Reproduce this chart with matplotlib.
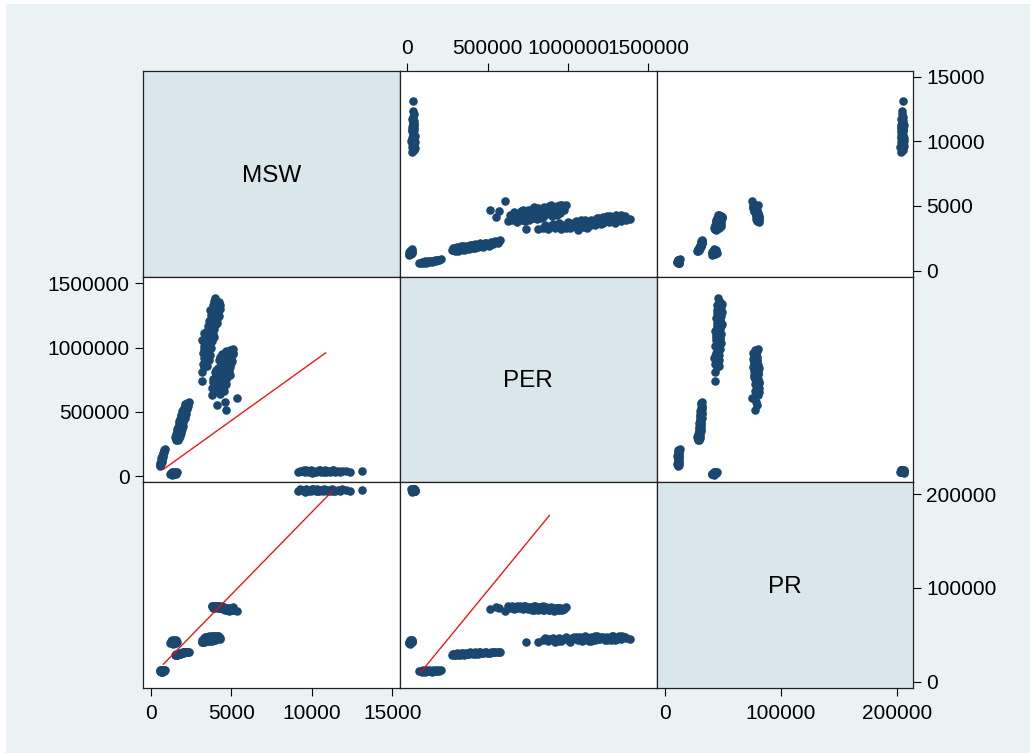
import matplotlib.pyplot as plt
from matplotlib.patches import Rectangle

plt.rcParams['font.family'] = ['Liberation Sans', 'DejaVu Sans']

# observations, one cluster per list (MSW, PER, PR)
msw_g1 = [570, 600, 640, 590, 650, 700, 620, 680, 730, 660, 710, 760, 690, 740, 790, 770, 820, 800, 850, 860]
per_g1 = [76000, 84000, 90000, 98000, 106000, 112000, 118000, 124000, 130000, 137000, 143000, 150000,
          157000, 164000, 171000, 178000, 186000, 194000, 201000, 209000]
pr_g1 = [11200, 11800, 10600, 12100, 11400, 10900, 12400, 11600, 11000, 12200, 11300, 11900,
         10800, 12500, 11500, 12000, 11100, 12300, 11700, 12800]

msw_g2 = [1220, 1260, 1300, 1340, 1360, 1380, 1400, 1420, 1450, 1480, 1510, 1540, 1580, 1630, 1470]
per_g2 = [15000, 22000, 12000, 28000, 18000, 25000, 31000, 14000, 21000, 27000, 33000, 19000, 26000,
          30000, 17000]
pr_g2 = [41000, 43500, 42000, 44500, 40500, 43000, 42500, 41500, 44000, 42800, 43800, 41800, 44200,
         42300, 40800]

msw_g3 = [1560, 1720, 1640, 1500, 1800, 1680, 1580, 1860, 1740, 1620, 1920, 1790, 1690, 1980, 1850,
          1740, 2030, 1900, 1800, 2100, 1960, 1850, 2160, 2020, 1920, 2240, 2080, 2300, 2150, 2380,
          1600, 1760, 1540, 1700, 1880, 1650, 1830, 1960, 1780, 2060, 1880, 2120, 1980, 2200, 2260]
per_g3 = [278000, 283000, 292000, 300000, 308000, 318000, 327000, 336000, 345000, 354000, 363000,
          372000, 382000, 391000, 400000, 410000, 420000, 430000, 440000, 450000, 460000, 472000,
          484000, 496000, 508000, 520000, 533000, 547000, 562000, 578000,
          288000, 298000, 315000, 332000, 350000, 368000, 386000, 405000, 425000, 445000, 465000,
          490000, 515000, 540000, 570000]
pr_g3 = [28400, 29600, 28900, 28100, 30200, 29300, 28600, 30600, 29800, 29000, 30900, 30100, 29400,
         31200, 30400, 29700, 31400, 30600, 30000, 31600, 30800, 30200, 31800, 31000, 30500, 32000,
         31200, 31700, 31300, 31900,
         29200, 30000, 28300, 29500, 30700, 29100, 30300, 31000, 29900, 31500, 30400, 31600, 30900,
         31800, 31500]

msw_g4 = [3190, 3195, 3330, 3520, 3250, 3420, 3600, 3300, 3480, 3680, 3220, 3550, 3380, 3750, 3290,
          3600, 3450, 3820, 3160, 3530, 3700, 3380, 3880, 3620, 3470, 3950, 3720, 3560, 4050, 3800,
          3640, 4130, 3880, 4260, 3720, 3990, 4180, 3850, 4080, 3940, 4330, 4060, 3900, 4020, 3650,
          3350, 3550, 3280, 3700, 3420, 3900, 3300, 3800, 3600, 4100, 3700, 3950, 4200, 3800, 4300,
          3980, 4150, 3850, 4220, 3500]
per_g4 = [740000, 812000, 845000, 860000, 875000, 890000, 905000, 918000, 930000, 945000, 958000,
          970000, 985000, 998000, 1010000, 1022000, 1035000, 1048000, 1060000, 1072000, 1085000,
          1096000, 1108000, 1120000, 1132000, 1145000, 1158000, 1170000, 1182000, 1195000, 1208000,
          1220000, 1232000, 1244000, 1256000, 1268000, 1280000, 1292000, 1305000, 1318000, 1330000,
          1345000, 1360000, 1382000, 1290000,
          880000, 935000, 990000, 1015000, 1055000, 1078000, 1115000, 1140000, 1165000, 1190000,
          1215000, 1240000, 1262000, 1275000, 1300000, 1312000, 1335000, 1328000, 1352000, 1100000]
pr_g4 = [42800, 42800, 44800, 46200, 43200, 45500, 47000, 42600, 44300, 46800, 43900, 45900, 47500,
         44500, 42900, 46300, 48000, 45100, 44000, 47200, 43700, 46600, 48400, 45300, 43500, 47700,
         46000, 44600, 48800, 45800, 47300, 46500, 44200, 48200, 46900, 45000, 49000, 47100, 45600,
         48500, 46400, 47800, 46700, 46000, 44800,
         45800, 43600, 46500, 44900, 47600, 46200, 45700, 43800, 48300, 45300, 47900, 44600, 47000,
         48700, 45900, 46800, 49200, 45200, 47400, 44100]

msw_g5 = [4680, 4120, 4640, 5370, 3820, 4300, 3950, 4550, 4100, 3780, 4400, 4200, 3900, 4650, 4020,
          4350, 4500, 3880, 4250, 4750, 4080, 4450, 4600, 3980, 4850, 4300, 4700, 4150, 4950, 4500,
          4380, 4800, 4620, 5050, 4250, 4880, 4550, 5000, 4720, 4420, 5080, 4850, 4650, 5110, 4950,
          3900, 4600, 4250, 3850, 4700, 4150, 4900, 4400, 4050, 4750, 4350, 5000, 4500, 4700, 4300,
          5100, 4850, 4600, 4950, 4100]
per_g5 = [514000, 553000, 574000, 606000, 628000, 640000, 652000, 662000, 672000, 683000, 692000,
          702000, 712000, 720000, 730000, 740000, 748000, 757000, 766000, 774000, 783000, 791000,
          800000, 808000, 816000, 825000, 833000, 842000, 850000, 858000, 866000, 875000, 884000,
          893000, 902000, 910000, 920000, 930000, 940000, 950000, 960000, 968000, 976000, 988000,
          945000,
          690000, 705000, 725000, 735000, 752000, 770000, 790000, 810000, 825000, 845000, 862000,
          880000, 895000, 915000, 930000, 950000, 935000, 958000, 978000, 795000]
pr_g5 = [77800, 79600, 78200, 75200, 80600, 78400, 81200, 77600, 79900, 80800, 78900, 80300, 79200,
         77300, 81000, 79500, 78100, 80100, 78700, 76900, 79700, 80400, 77900, 78600, 76600, 79300,
         78400, 80700, 76300, 77500, 79800, 78000, 76800, 77200, 79000, 75800, 78800, 77400, 76500,
         78300, 76000, 77700, 79100, 79800, 78500,
         79800, 78300, 80800, 78900, 77800, 79200, 76900, 80100, 79500, 77000, 78500, 76700, 79600,
         77600, 78900, 76400, 78200, 77100, 77900, 80500]

msw_g6 = [9150, 9300, 9420, 9550, 9650, 9780, 9850, 9950, 10050, 10150, 10250, 10300, 10400, 10500,
          10600, 10700, 10780, 10850, 10950, 11050, 11150, 11250, 11350, 11450, 11600, 11750, 11900,
          12100, 12350, 13150, 9500, 10000, 10450, 10900, 11300]
per_g6 = [32000, 41000, 36000, 29000, 44000, 38000, 33000, 47000, 40000, 35000, 30000, 43000, 37000,
          45000, 34000, 39000, 31000, 46000, 36000, 42000, 33000, 38000, 44000, 35000, 40000, 32000,
          37000, 41000, 34000, 36000, 48000, 27000, 49000, 28000, 46000]
pr_g6 = [203500, 205200, 204100, 202800, 205800, 203900, 204600, 203200, 205000, 204300, 202900,
         205500, 203700, 204800, 204000, 203300, 205300, 204500, 203600, 204900, 203100, 205600,
         204200, 203800, 204700, 203400, 205100, 204400, 203900, 204600, 204100, 205400, 203000,
         204800, 203500]

# red reference lines (end points)
line_msw = [785, 10860]
line_msw_per = [52400, 958000]
line_msw2 = [785, 11290]
line_msw_pr = [18700, 203500]
line_per = [86400, 884600]
line_per_pr = [10400, 177400]

names = ['MSW', 'PER', 'PR']
ticks = [[0, 5000, 10000, 15000], [0, 500000, 1000000, 1500000], [0, 100000, 200000]]
lims = [(-480, 15480), (-44000, 1551000), (-7000, 213300)]

msw = msw_g1 + msw_g2 + msw_g3 + msw_g4 + msw_g5 + msw_g6
per = per_g1 + per_g2 + per_g3 + per_g4 + per_g5 + per_g6
pr = pr_g1 + pr_g2 + pr_g3 + pr_g4 + pr_g5 + pr_g6
data = [msw, per, pr]

W, H = 1030, 753
fig = plt.figure(figsize=(W / 100, H / 100), dpi=100)
fig.patch.set_facecolor('white')
fig.add_artist(Rectangle((6 / W, 0), 1, 1 - 4 / H, transform=fig.transFigure,
                         facecolor='#eaf2f3', edgecolor='none', zorder=0))

xe = [143, 400, 656.7, 912.7]
ye = [70.7, 276.7, 481.7, 688.3]
navy = '#1a476f'
axes = {}
for i in range(3):
    for j in range(3):
        ax = fig.add_axes([xe[j] / W, 1 - ye[i + 1] / H, (xe[j + 1] - xe[j]) / W, (ye[i + 1] - ye[i]) / H])
        axes[(i, j)] = ax
        ax.set_xlim(lims[j])
        ax.set_ylim(lims[i])
        for s in ax.spines.values():
            s.set_linewidth(0.9)
            s.set_color('#222222')
        ax.tick_params(which='both', left=False, right=False, top=False, bottom=False,
                       labelleft=False, labelright=False, labeltop=False, labelbottom=False,
                       length=5.5, width=0.8, labelsize=15, pad=4)
        if i == j:
            ax.set_facecolor('#d9e6eb')
            ax.text(0.5, 0.49, names[i], transform=ax.transAxes, ha='center', va='center', fontsize=17.5)
        else:
            ax.scatter(data[j], data[i], s=38, color=navy, linewidths=0, zorder=3)

axes[(1, 0)].plot(line_msw, line_msw_per, color='red', lw=0.9, zorder=4)
axes[(2, 0)].plot(line_msw2, line_msw_pr, color='red', lw=0.9, zorder=4)
axes[(2, 1)].plot(line_per, line_per_pr, color='red', lw=0.9, zorder=4)

def labels(t):
    return [str(v) for v in t]

ax = axes[(0, 2)]
ax.set_yticks(ticks[0], labels(ticks[0]))
ax.tick_params(right=True, labelright=True)
ax = axes[(0, 1)]
ax.set_xticks(ticks[1], labels(ticks[1]))
ax.tick_params(top=True, labeltop=True)
ax = axes[(1, 0)]
ax.set_yticks(ticks[1], labels(ticks[1]))
ax.tick_params(left=True, labelleft=True)
ax = axes[(2, 2)]
ax.set_yticks(ticks[2], labels(ticks[2]))
ax.set_xticks(ticks[2], labels(ticks[2]))
ax.tick_params(right=True, labelright=True)
ax.tick_params(axis='x', bottom=True, labelbottom=True, pad=6)
ax = axes[(2, 0)]
ax.set_xticks(ticks[0], labels(ticks[0]))
ax.tick_params(axis='x', bottom=True, labelbottom=True, pad=6)

plt.savefig('out.png', dpi=100, facecolor=fig.get_facecolor())
